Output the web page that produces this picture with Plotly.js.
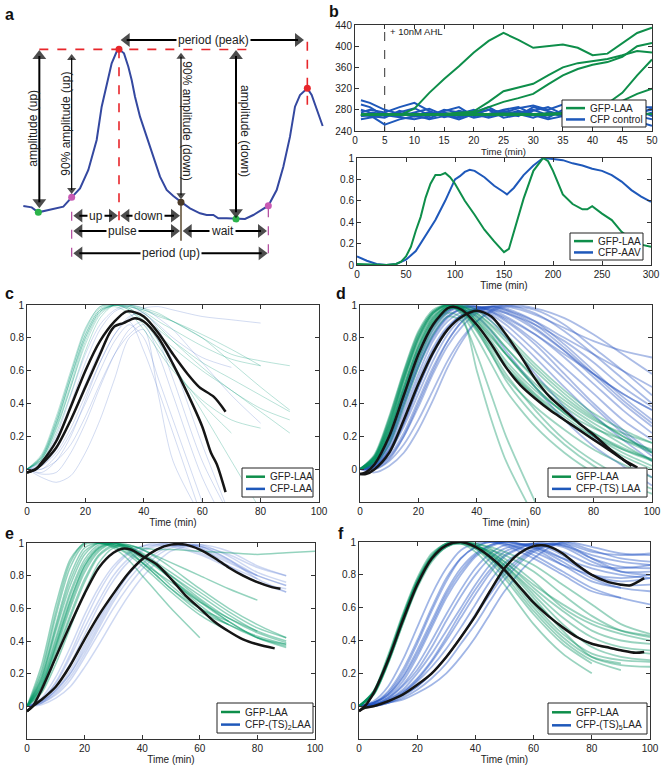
<!DOCTYPE html>
<html>
<head>
<meta charset="utf-8">
<script src="https://cdn.plot.ly/plotly-3.0.1.min.js"></script>
<style>
  body { margin: 0; background: #fff; }
  #fig { width: 667px; height: 769px; }
</style>
</head>
<body>
<div id="fig"></div>
<script>
// ---- panel a: schematic curve (drawn in its own 1020 x 840 sketch units)
var sketchX = [70,95,115,150,190,215,240,265,290,305,320,335,350,357,372,385,395,405,420,440,460,480,500,520,545,570,600,620,640,655,680,708,735,760,780,805,830,850,870,885,900,922,935,950,968];
var sketchY = [618,622,637,630,620,592,565,510,420,320,250,190,155,148,160,200,240,290,350,410,470,530,570,588,607,625,640,645,645,655,655,657,657,645,633,617,570,500,410,320,285,265,285,330,378];
var dotX = [115,708,215,805,357,922,543];
var dotY = [637,657,592,617,148,265,607];
var dotColor = ['#2bb34a','#2bb34a','#c85ab4','#c85ab4','#e8262b','#e8262b','#4a3a28'];
// double arrows [x0, y0, x1, y1, width]
var arrows = [
    [362,120,912,120,2], [118,150,118,625,2], [215,162,215,582,1.2],
    [543,158,543,598,1.2], [708,150,708,655,2], [220,647,354,647,2],
    [361,647,540,647,2], [220,693,540,693,2], [548,693,801,693,2],
    [220,760,803,760,2]
];
var arrowText = ['period (peak)','amplitude (up)','90% amplitude (up)','90% amplitude (down)','amplitude (down)','up','down','pulse','wait','period (up)'];
var arrowTextX = [640,100,197,562,737,287,446,366,666,512];
var arrowTextY = [120,385,372,362,392,647,647,693,693,760];
var arrowTextAngle = [0,-90,-90,90,90,0,0,0,0,0];
var redDash = [[118,148,760,148],[357,148,357,665],[922,125,922,325]];
var pinkDash = [[215,635,215,778],[805,625,805,778]];
var brownLine = [[543,610,543,722]];

// ---- panel b (top): raw traces after induction
var tInd = [1,2.5,5,7.5,10,12.5,15,17.5,20,22.5,25,27.5,30,32.5,35,37.5,40,42.5,45,47.5,50];
var indGfp = [
    [270,270,270,270,282,312,338,362,388,410,425,412,397,400,403,397,383,386,405,425,435],
    [270,270,270,270,270,270,272,274,277,295,315,322,329,345,360,368,372,376,383,391,388],
    [270,270,270,270,270,270,271,272,274,285,295,302,310,328,345,357,365,370,380,400,406],
    [270,270,270,270,270,270,270,270,270,270,270,270,271,272,274,276,282,292,312,345,375],
    [270,270,270,270,270,270,270,270,270,270,270,270,270,270,272,275,280,287,297,310,320],
    [272,272,271,272,272,271,272,273,272,272,273,272,272,273,272,272,273,272,272,273,272]
];
var indCfp = [
    [298,293,280,272,268,276,270,262,272,280,275,268,285,278,270,282,275,268,262,270,283],
    [290,285,268,275,283,270,278,285,268,272,280,285,272,265,280,275,285,278,270,265,275],
    [268,270,252,262,268,264,275,268,272,280,265,270,278,285,272,268,275,280,268,258,250],
    [275,280,275,285,293,278,266,272,280,268,275,283,288,280,290,285,272,278,285,280,268],
    [262,265,270,266,262,268,280,275,265,270,278,272,265,275,268,260,270,275,272,285,285],
    [280,275,272,268,275,282,270,265,275,285,270,278,270,262,268,280,278,265,270,275,280],
    [270,268,265,278,270,262,268,278,272,265,272,275,280,270,275,270,265,272,280,268,262]
];
var ahlTime = 5;

// ---- panel b (bottom): normalised single cell
var tGfpCell = [0,10,20,30,40,45,50,55,60,65,70,75,80,85,90,95,100,110,120,130,140,150,155,160,170,180,190,195,200,210,220,230,235,240,250,260,270,280,290,300];
var gfpCell = [0.01,0.005,0,0,0.01,0.03,0.08,0.17,0.32,0.45,0.63,0.76,0.84,0.84,0.86,0.82,0.76,0.6,0.47,0.33,0.22,0.12,0.15,0.3,0.62,0.88,1.0,0.97,0.88,0.66,0.57,0.52,0.52,0.55,0.48,0.42,0.31,0.24,0.19,0.17];
var tCfpCell = [0,10,20,30,40,50,60,70,80,90,100,105,110,115,120,130,140,150,153,160,170,180,190,200,210,220,230,240,250,260,270,280,290,300];
var cfpCell = [0.08,0.04,0.01,0,0.01,0.05,0.13,0.28,0.42,0.6,0.8,0.83,0.87,0.89,0.88,0.82,0.74,0.68,0.66,0.72,0.84,0.93,1.0,0.99,0.98,0.95,0.93,0.9,0.88,0.84,0.78,0.7,0.64,0.59];

// ---- panels c-f: thin single-cell pulses, sampled on one time grid
var tPulse = [0,5,10,15,20,25,30,35,40,45,50,60,70,80,90,100];

var cGfp = [
    [0,0.08,0.3,0.58,0.85,0.99,1.0,0.98,0.92,0.85,0.78,0.65,0.55,0.45,0.35],
    [0,0.07,0.28,0.55,0.8,0.96,1.0,0.99,0.96,0.9,0.85,0.75,0.67,0.63],
    [0,0.06,0.25,0.5,0.78,0.95,1.0,0.97,0.88,0.75,0.62,0.4,0.22],
    [0,0.08,0.3,0.58,0.84,0.98,1.0,1.0,0.97,0.93,0.9,0.82,0.73,0.63],
    [0,0.05,0.22,0.46,0.72,0.92,1.0,0.98,0.9,0.78,0.64,0.35,0.05,-0.25],
    [0,0.06,0.26,0.52,0.8,0.96,1.0,1.0,0.98,0.95,0.9,0.8,0.7,0.66,0.63],
    [0,0.07,0.27,0.55,0.82,0.97,0.99,0.95,0.85,0.72,0.6,0.42,0.3,0.25],
    [0,0.06,0.24,0.5,0.76,0.94,1.0,1.0,0.95,0.87,0.78,0.62,0.48,0.37,0.3],
    [0,0.09,0.32,0.6,0.86,0.99,1.0,0.97,0.9,0.82,0.74,0.6,0.48,0.35,0.22],
    [0,0.07,0.28,0.56,0.82,0.97,1.0,0.99,0.97,0.94,0.9,0.8,0.65,0.5,0.36]
];
var cCfp = [
    [0,-0.05,-0.08,-0.04,0.1,0.3,0.55,0.8,0.85,0.45,0.05,-0.3],
    [0,0.02,0.12,0.3,0.52,0.72,0.86,0.9,0.72,0.48,0.22,-0.3],
    [0,0.0,0.05,0.15,0.32,0.52,0.7,0.82,0.88,0.7,0.45,-0.05,-0.4],
    [0,0.04,0.18,0.4,0.65,0.85,0.96,0.99,0.95,0.88,0.8,0.68,0.62],
    [0,-0.02,0.05,0.2,0.42,0.65,0.82,0.92,0.98,0.99,0.97,0.93,0.91,0.89],
    [0,0.02,0.1,0.25,0.45,0.65,0.82,0.93,0.95,0.85,0.65,0.15,-0.3],
    [0,0.05,0.2,0.45,0.7,0.88,0.97,1.0,0.98,0.92,0.85,0.65,0.45,0.28],
    [0,-0.03,-0.02,0.1,0.28,0.5,0.7,0.85,0.9,0.78,0.55,0.05,-0.3],
    [0,0.0,0.08,0.22,0.4,0.6,0.78,0.88,0.8,0.55,0.3,-0.2]
];
var cMeanAT = [0,3,5,10,15,20,25,30,34,37,40,45,50,55,59,64,68];
var cMeanA = [-0.02,0,0.04,0.17,0.38,0.6,0.78,0.9,0.96,0.955,0.93,0.83,0.7,0.58,0.5,0.44,0.35];
var cMeanBT = [0,3,5,10,15,20,25,28,30,33,37,40,45,50,55,60,63,65,68];
var cMeanB = [-0.02,0,0.03,0.13,0.3,0.5,0.7,0.82,0.87,0.89,0.92,0.9,0.8,0.64,0.46,0.26,0.1,0.03,-0.14];

var dGfp = [
    [0,0.06,0.24,0.5,0.74,0.9,0.98,0.97,0.88,0.76,0.62,0.45,0.3,0.18,0.08,0.0],
    [0,0.08,0.3,0.58,0.82,0.96,1.0,0.95,0.84,0.7,0.56,0.38,0.24,0.12,0.03,-0.05],
    [0,0.05,0.2,0.45,0.7,0.88,0.97,0.99,0.94,0.85,0.74,0.55,0.4,0.28,0.18,0.1],
    [0,0.07,0.27,0.55,0.78,0.93,0.99,0.96,0.86,0.72,0.58,0.36,0.18,0.05,-0.05,-0.12],
    [0,0.06,0.25,0.52,0.76,0.92,0.99,0.98,0.92,0.82,0.7,0.5,0.34,0.22,0.12,0.05],
    [0,0.09,0.32,0.6,0.84,0.97,1.0,0.96,0.86,0.74,0.62,0.44,0.3,0.2,0.12,0.06],
    [0,0.05,0.22,0.48,0.72,0.9,0.98,0.99,0.95,0.88,0.8,0.62,0.46,0.32,0.2,0.1],
    [0,0.07,0.28,0.56,0.8,0.95,1.0,0.97,0.88,0.76,0.64,0.46,0.32,0.2,0.1,0.02],
    [0,0.04,0.18,0.42,0.66,0.85,0.95,0.92,0.6,0.3,0.05,-0.3],
    [0,0.06,0.24,0.5,0.75,0.92,0.99,0.99,0.93,0.84,0.74,0.56,0.42,0.3,0.22,0.16],
    [0,0.08,0.29,0.57,0.81,0.95,1.0,0.96,0.85,0.7,0.54,0.32,0.15,0.02,-0.08,-0.15],
    [0,0.05,0.21,0.46,0.71,0.89,0.98,0.98,0.9,0.78,0.66,0.48,0.35,0.25,0.18,0.12],
    [0,0.03,0.15,0.38,0.62,0.82,0.93,0.9,0.7,0.45,0.2,-0.2],
    [0,0.07,0.26,0.54,0.79,0.94,1.0,0.98,0.9,0.8,0.7,0.52,0.38,0.26,0.15,0.05],
    [0,0.07,0.27,0.55,0.8,0.95,1.0,0.98,0.91,0.81,0.7,0.5,0.34,0.22,0.13,0.06],
    [0,0.06,0.23,0.49,0.74,0.91,0.99,0.99,0.95,0.87,0.78,0.6,0.44,0.31,0.2,0.11],
    [0,0.08,0.31,0.59,0.83,0.96,1.0,0.94,0.8,0.64,0.48,0.26,0.1,-0.02,-0.1],
    [0,0.05,0.2,0.44,0.68,0.87,0.97,1.0,0.97,0.9,0.82,0.64,0.48,0.34,0.24,0.16]
];
var dCfp = [
    [0,0.02,0.12,0.32,0.55,0.74,0.87,0.94,0.97,0.95,0.9,0.76,0.58,0.4,0.24,0.1],
    [0,0.04,0.2,0.45,0.7,0.87,0.96,0.99,0.98,0.94,0.88,0.72,0.55,0.38,0.22,0.08],
    [0,0.0,0.06,0.2,0.4,0.6,0.78,0.9,0.97,0.99,0.98,0.9,0.76,0.6,0.44,0.3],
    [0,0.03,0.15,0.38,0.62,0.8,0.92,0.98,0.99,0.97,0.93,0.82,0.68,0.52,0.36,0.22],
    [0,0.01,0.1,0.28,0.5,0.7,0.85,0.94,0.98,0.99,0.97,0.9,0.8,0.7,0.6,0.5],
    [0,0.02,0.12,0.3,0.52,0.72,0.86,0.93,0.96,0.9,0.8,0.58,0.38,0.2,0.06,-0.05],
    [0,0.05,0.22,0.48,0.72,0.88,0.97,1.0,0.99,0.96,0.92,0.82,0.7,0.58,0.46,0.36],
    [0,0.0,0.05,0.15,0.3,0.48,0.66,0.8,0.9,0.96,0.99,0.97,0.88,0.74,0.6,0.45],
    [0,0.02,0.1,0.26,0.46,0.66,0.82,0.92,0.97,0.99,0.99,0.94,0.86,0.78,0.72,0.68],
    [0,0.03,0.16,0.4,0.64,0.82,0.93,0.97,0.93,0.84,0.72,0.5,0.3,0.14,0.02,-0.1],
    [0,0.01,0.08,0.22,0.42,0.62,0.78,0.9,0.96,0.98,0.96,0.86,0.72,0.56,0.4,0.26],
    [0,0.04,0.18,0.42,0.66,0.84,0.95,0.99,0.99,0.96,0.91,0.78,0.62,0.46,0.3,0.18],
    [0,-0.02,0.02,0.1,0.24,0.42,0.62,0.78,0.9,0.97,1.0,0.98,0.92,0.82,0.7,0.58],
    [0,0.03,0.14,0.35,0.58,0.78,0.9,0.96,0.98,0.97,0.95,0.88,0.78,0.65,0.5,0.38],
    [0,0.02,0.11,0.28,0.5,0.7,0.85,0.94,0.98,0.99,0.97,0.88,0.74,0.58,0.42,0.28],
    [0,0.03,0.17,0.4,0.63,0.81,0.93,0.98,0.99,0.98,0.95,0.85,0.72,0.58,0.46,0.36],
    [0,0.01,0.07,0.2,0.38,0.58,0.75,0.87,0.95,0.99,1.0,0.95,0.84,0.7,0.55,0.4],
    [0,0.04,0.19,0.44,0.68,0.86,0.96,0.99,0.97,0.92,0.85,0.68,0.5,0.33,0.18,0.05]
];
var dMeanAT = [0,2,5,10,15,20,25,30,32,35,40,45,50,55,60,65,70,75,80,85,90,95];
var dMeanA = [-0.03,-0.02,0.03,0.2,0.45,0.7,0.88,0.98,0.99,0.97,0.88,0.76,0.62,0.51,0.43,0.36,0.3,0.24,0.18,0.12,0.06,0.01];
var dMeanBT = [0,2,5,10,15,20,25,30,35,40,45,50,55,60,65,70,75,80,85,90,93];
var dMeanB = [-0.03,-0.03,0.0,0.1,0.3,0.52,0.71,0.85,0.93,0.965,0.93,0.82,0.69,0.55,0.44,0.36,0.28,0.21,0.13,0.06,0.02];

var eGfp = [
    [0,0.15,0.42,0.7,0.9,0.99,1.0,0.97,0.92,0.86,0.78,0.64,0.52,0.42,0.38],
    [0,0.2,0.55,0.85,0.99,1.0,0.98,0.93,0.86,0.78,0.7,0.56,0.46],
    [0,0.1,0.32,0.56,0.78,0.93,0.99,0.98,0.93,0.87,0.8,0.68,0.56,0.46,0.4],
    [0,0.12,0.36,0.62,0.84,0.96,1.0,0.98,0.94,0.88,0.82,0.7,0.58,0.48,0.42],
    [0,0.25,0.62,0.9,1.0,1.0,0.97,0.9,0.8,0.7,0.6,0.42],
    [0,0.08,0.26,0.48,0.7,0.88,0.97,0.99,0.96,0.91,0.85,0.72,0.6,0.5,0.42],
    [0,0.14,0.4,0.68,0.88,0.98,1.0,0.96,0.88,0.8,0.72,0.6,0.52],
    [0,0.11,0.34,0.6,0.82,0.95,1.0,0.99,0.96,0.92,0.88,0.8,0.72,0.65],
    [0,0.18,0.5,0.8,0.97,1.0,0.99,0.98,0.97,0.96,0.96,0.95,0.94,0.93,0.94,0.95],
    [0,0.09,0.3,0.54,0.76,0.92,0.98,0.97,0.92,0.86,0.78,0.65,0.52,0.42,0.36],
    [0,0.13,0.38,0.65,0.86,0.97,1.0,0.97,0.9,0.82,0.74,0.6,0.5,0.43,0.38],
    [0,0.16,0.46,0.74,0.93,1.0,0.99,0.95,0.88,0.8,0.72,0.58,0.5],
    [0,0.22,0.58,0.88,1.0,1.0,0.98,0.94,0.88,0.82,0.76,0.64,0.54,0.46],
    [0,0.12,0.37,0.64,0.86,0.97,1.0,0.98,0.93,0.87,0.8,0.66,0.54,0.45,0.39],
    [0,0.17,0.48,0.77,0.95,1.0,0.99,0.96,0.91,0.85,0.78,0.62,0.5,0.42,0.37]
];
var eCfp = [
    [0,0.03,0.1,0.22,0.38,0.54,0.69,0.81,0.9,0.96,0.99,0.97,0.86,0.76,0.72],
    [0,0.04,0.14,0.3,0.48,0.65,0.8,0.9,0.96,0.99,1.0,0.98,0.9,0.8],
    [0,0.02,0.07,0.16,0.3,0.45,0.6,0.73,0.84,0.92,0.97,0.99,0.92,0.82,0.76],
    [0,0.05,0.18,0.36,0.56,0.73,0.86,0.94,0.98,0.99,0.98,0.93,0.85,0.76,0.7],
    [0,0.02,0.08,0.18,0.32,0.48,0.64,0.77,0.87,0.94,0.98,0.98,0.9,0.78,0.7],
    [0,0.03,0.12,0.26,0.44,0.62,0.77,0.88,0.95,0.98,0.99,0.96,0.88,0.8,0.74],
    [0,0.01,0.05,0.12,0.24,0.38,0.53,0.67,0.79,0.88,0.95,0.99,0.95,0.86,0.8],
    [0,0.04,0.15,0.32,0.52,0.7,0.84,0.93,0.98,1.0,0.99,0.94,0.86,0.78],
    [0,0.02,0.1,0.2,0.36,0.52,0.68,0.8,0.9,0.96,0.99,0.98,0.93,0.85,0.8],
    [0,0.03,0.09,0.2,0.34,0.5,0.66,0.8,0.9,0.96,0.99,0.97,0.89,0.8,0.74]
];
var eMeanAT = [0,2,5,10,15,20,25,30,33,36,40,45,50,55,60,65,70,75,80,86];
var eMeanA = [-0.03,0,0.1,0.3,0.5,0.69,0.85,0.94,0.965,0.96,0.92,0.87,0.78,0.68,0.6,0.52,0.46,0.41,0.38,0.355];
var eMeanBT = [0,2,5,10,15,20,25,30,35,40,45,50,55,60,65,70,75,80,85,88];
var eMeanB = [-0.03,0,0.04,0.12,0.25,0.41,0.56,0.69,0.81,0.9,0.96,0.99,0.99,0.96,0.91,0.85,0.8,0.76,0.73,0.72];

var fGfp = [
    [0,0.08,0.28,0.52,0.74,0.9,0.98,1.0,0.97,0.91,0.83,0.64,0.48,0.38,0.34,0.32],
    [0,0.09,0.3,0.55,0.77,0.92,0.99,1.0,0.98,0.94,0.88,0.72,0.58,0.46,0.4,0.38],
    [0,0.07,0.26,0.5,0.72,0.88,0.97,1.0,0.98,0.93,0.86,0.68,0.5,0.36,0.3,0.28],
    [0,0.08,0.29,0.54,0.76,0.91,0.99,1.0,0.96,0.88,0.78,0.56,0.38,0.26],
    [0,0.09,0.31,0.56,0.78,0.93,0.99,0.99,0.97,0.95,0.92,0.82,0.68,0.55,0.46,0.42],
    [0,0.07,0.27,0.51,0.73,0.89,0.97,0.99,0.96,0.9,0.82,0.6,0.42,0.3,0.26],
    [0,0.08,0.28,0.53,0.75,0.91,0.98,1.0,0.99,0.96,0.9,0.76,0.6,0.5,0.44,0.4],
    [0,0.08,0.27,0.52,0.74,0.9,0.98,0.99,0.94,0.85,0.74,0.5,0.32,0.2],
    [0,0.09,0.29,0.54,0.76,0.91,0.98,1.0,0.98,0.93,0.86,0.7,0.54,0.42,0.36,0.34],
    [0,0.07,0.26,0.5,0.73,0.89,0.97,1.0,0.99,0.97,0.94,0.86,0.74,0.62,0.5,0.44],
    [0,0.08,0.28,0.53,0.75,0.9,0.98,1.0,0.97,0.92,0.85,0.66,0.46,0.3,0.25,0.24],
    [0,0.08,0.28,0.53,0.75,0.9,0.98,1.0,0.98,0.94,0.88,0.74,0.62,0.52,0.46,0.43],
    [0,0.08,0.27,0.52,0.74,0.9,0.98,1.0,0.97,0.91,0.84,0.62,0.44,0.32,0.28,0.27],
    [0,0.09,0.29,0.54,0.76,0.91,0.99,1.0,0.97,0.9,0.8,0.58,0.4,0.28,0.22]
];
var fCfp = [
    [0,0.02,0.08,0.2,0.38,0.58,0.76,0.9,0.97,1.0,0.99,0.92,0.82,0.72,0.66,0.62],
    [0,0.01,0.04,0.1,0.2,0.32,0.46,0.6,0.74,0.86,0.94,0.99,0.92,0.8,0.74,0.74],
    [0,0.0,0.02,0.05,0.1,0.17,0.26,0.38,0.5,0.64,0.77,0.94,0.99,0.9,0.82,0.8],
    [0,0.03,0.12,0.28,0.48,0.68,0.84,0.95,0.99,1.0,0.98,0.9,0.8,0.7,0.66],
    [0,0.01,0.05,0.13,0.25,0.4,0.56,0.71,0.84,0.93,0.98,0.98,0.9,0.8,0.76,0.78],
    [0,0.0,0.03,0.08,0.15,0.24,0.35,0.48,0.62,0.76,0.87,0.98,0.98,0.9,0.85,0.84],
    [0,0.02,0.06,0.15,0.3,0.48,0.66,0.8,0.91,0.97,1.0,0.97,0.88,0.78,0.72,0.7],
    [0,0.01,0.04,0.09,0.17,0.28,0.42,0.57,0.71,0.83,0.92,0.99,0.97,0.88,0.82,0.82],
    [0,0.01,0.03,0.07,0.12,0.2,0.3,0.42,0.56,0.7,0.82,0.96,1.0,0.95,0.9,0.88],
    [0,0.02,0.07,0.18,0.34,0.52,0.7,0.84,0.93,0.98,1.0,0.96,0.86,0.76,0.72],
    [0,0.01,0.05,0.12,0.22,0.36,0.52,0.67,0.8,0.9,0.96,0.99,0.94,0.86,0.84,0.86],
    [0,0.0,0.02,0.06,0.12,0.2,0.3,0.42,0.55,0.68,0.8,0.95,0.99,0.94,0.92,0.93],
    [0,0.02,0.07,0.17,0.32,0.5,0.68,0.82,0.92,0.98,1.0,0.97,0.9,0.84,0.8,0.78],
    [0,0.01,0.03,0.08,0.16,0.27,0.4,0.54,0.68,0.81,0.91,0.99,0.98,0.92,0.88,0.86],
    [0,0.02,0.09,0.22,0.4,0.6,0.78,0.9,0.97,1.0,0.99,0.94,0.86,0.8,0.78,0.8],
    [0,0.0,0.02,0.04,0.08,0.13,0.2,0.3,0.42,0.56,0.7,0.9,1.0,0.97,0.93,0.92]
];
var fMeanAT = [0,2,5,10,15,20,25,30,35,40,45,50,55,60,65,70,75,80,85,90,95,98];
var fMeanA = [-0.03,0,0.08,0.28,0.52,0.74,0.9,0.98,1.0,0.97,0.91,0.83,0.73,0.63,0.55,0.48,0.42,0.38,0.36,0.34,0.325,0.33];
var fMeanBT = [0,2,5,10,15,20,25,30,35,40,45,50,55,60,63,65,70,75,80,85,90,93,95,98];
var fMeanB = [-0.03,-0.01,0.0,0.03,0.07,0.13,0.2,0.3,0.42,0.55,0.7,0.84,0.93,0.975,0.98,0.975,0.93,0.86,0.8,0.76,0.74,0.735,0.75,0.78];

var legendNames = [
    ['GFP-LAA', 'CFP control'],
    ['GFP-LAA', 'CFP-AAV'],
    ['GFP-LAA', 'CFP-LAA'],
    ['GFP-LAA', 'CFP-(TS) LAA'],
    ['GFP-LAA', 'CFP-(TS)<sub>2</sub>LAA'],
    ['GFP-LAA', 'CFP-(TS)<sub>5</sub>LAA']
];

var GREEN = 'rgb(14,142,74)';
var BLUE = 'rgb(30,88,186)';
var FONT = 'Liberation Sans, Arial, sans-serif';
var W = 667, H = 769;

var traces = [];

function line(x, y, xa, ya, color, width, shape) {
    return {
        x: x, y: y, xaxis: xa, yaxis: ya, type: 'scatter', mode: 'lines',
        line: {color: color, width: width, shape: shape || 'linear', smoothing: 0.8},
        hoverinfo: 'skip', showlegend: false
    };
}

function addThin(rows, color, width, xa, ya) {
    rows.forEach(function(r) {
        traces.push(line(tPulse.slice(0, r.length), r, xa, ya, color, width, 'spline'));
    });
}

// panel a
traces.push(line(sketchX, sketchY, 'x', 'y', 'rgb(52,72,160)', 2));
traces.push({x: dotX, y: dotY, xaxis: 'x', yaxis: 'y', type: 'scatter', mode: 'markers',
    marker: {color: dotColor, size: 7}, hoverinfo: 'skip', showlegend: false});

// arrow heads as triangle markers at both ends of each arrow
var headX = [], headY = [], headSym = [], headSize = [];
arrows.forEach(function(a) {
    var s = a[4] > 1.5 ? 12 : 8;
    var off = s * 0.5 * 3;
    if (a[1] === a[3]) {
        headX.push(a[0] + off, a[2] - off); headY.push(a[1], a[3]);
        headSym.push('triangle-left', 'triangle-right');
    } else {
        headX.push(a[0], a[2]); headY.push(a[1] + off, a[3] - off);
        headSym.push('triangle-up', 'triangle-down');
    }
    headSize.push(s, s);
});
traces.push({x: headX, y: headY, xaxis: 'x', yaxis: 'y', type: 'scatter', mode: 'markers',
    marker: {color: '#000', size: headSize, symbol: headSym, line: {width: 0}},
    hoverinfo: 'skip', showlegend: false});

// panel b top
indCfp.forEach(function(r) { traces.push(line(tInd, r, 'x2', 'y2', BLUE, 2)); });
indGfp.slice().reverse().forEach(function(r) { traces.push(line(tInd, r, 'x2', 'y2', GREEN, 2)); });

// panel b bottom
traces.push(line(tCfpCell, cfpCell, 'x3', 'y3', BLUE, 2));
traces.push(line(tGfpCell, gfpCell, 'x3', 'y3', GREEN, 2));

// panels c-f: [gfp, cfp, meanA t, meanA, meanB t, meanB, xaxis, yaxis, green rgba, blue rgba, width]
var pulsePanels = [
    [cGfp, cCfp, cMeanAT, cMeanA, cMeanBT, cMeanB, 'x4', 'y4', 'rgba(0,150,115,0.28)', 'rgba(50,90,190,0.22)', 1],
    [dGfp, dCfp, dMeanAT, dMeanA, dMeanBT, dMeanB, 'x5', 'y5', 'rgba(0,145,95,0.38)', 'rgba(35,80,190,0.38)', 1.8],
    [eGfp, eCfp, eMeanAT, eMeanA, eMeanBT, eMeanB, 'x6', 'y6', 'rgba(0,150,100,0.42)', 'rgba(50,90,200,0.24)', 1.5],
    [fGfp, fCfp, fMeanAT, fMeanA, fMeanBT, fMeanB, 'x7', 'y7', 'rgba(0,145,95,0.4)', 'rgba(30,80,195,0.42)', 1.8]
];
pulsePanels.forEach(function(p) {
    addThin(p[1], p[9], p[10], p[6], p[7]);
    addThin(p[0], p[8], p[10], p[6], p[7]);
    traces.push(line(p[2], p[3], p[6], p[7], '#151515', 2.5, 'spline'));
    traces.push(line(p[4], p[5], p[6], p[7], '#151515', 2.5, 'spline'));
});

// axes ----------------------------------------------------------
function dx(a, b) { return [a / W, b / W]; }
function dy(top, bottom) { return [1 - bottom / H, 1 - top / H]; }

function frameAxis(dom, range, ticks, labels, anchor, title) {
    var ax = {
        domain: dom, range: range, anchor: anchor, tickvals: ticks, ticktext: labels,
        ticks: 'inside', ticklen: 4, tickwidth: 1, tickcolor: '#333',
        showline: true, linecolor: '#333', linewidth: 1, mirror: 'ticks',
        showgrid: false, zeroline: false, fixedrange: true,
        tickfont: {size: 10, color: '#222', family: FONT}
    };
    if (title) ax.title = {text: title, font: {size: 10, color: '#222', family: FONT}, standoff: 1};
    return ax;
}

var pulseY = [0, 0.2, 0.4, 0.6, 0.8, 1];
var pulseYText = ['0', '0.2', '0.4', '0.6', '0.8', '1'];
var pulseX = [0, 20, 40, 60, 80, 100];

var layout = {
    width: W, height: H,
    margin: {l: 0, r: 0, t: 0, b: 0},
    paper_bgcolor: '#fff', plot_bgcolor: 'rgba(0,0,0,0)',
    font: {family: FONT, color: '#222'},
    showlegend: false,
    xaxis: {domain: dx(0, 340), range: [0, 1020], visible: false, anchor: 'y', fixedrange: true},
    yaxis: {domain: dy(0, 280), range: [840, 0], visible: false, anchor: 'x', fixedrange: true},
    xaxis2: frameAxis(dx(355, 652), [0, 50], [0,5,10,15,20,25,30,35,40,45,50], null, 'y2'),
    yaxis2: frameAxis(dy(25, 131), [240, 440], [240,280,320,360,400,440], null, 'x2'),
    xaxis3: frameAxis(dx(357, 651), [0, 300], [0,50,100,150,200,250,300], null, 'y3', 'Time (min)'),
    yaxis3: frameAxis(dy(158, 265), [0, 1], pulseY, pulseYText, 'x3'),
    xaxis4: frameAxis(dx(27, 319), [0, 100], pulseX, null, 'y4', 'Time (min)'),
    yaxis4: frameAxis(dy(305, 502), [-0.2, 1], pulseY, pulseYText, 'x4'),
    xaxis5: frameAxis(dx(360, 652), [0, 100], pulseX, null, 'y5', 'Time (min)'),
    yaxis5: frameAxis(dy(305, 502), [-0.2, 1], pulseY, pulseYText, 'x5'),
    xaxis6: frameAxis(dx(27, 315), [0, 100], pulseX, null, 'y6', 'Time (min)'),
    yaxis6: frameAxis(dy(543, 739), [-0.2, 1], pulseY, pulseYText, 'x6'),
    xaxis7: frameAxis(dx(359, 650), [0, 100], pulseX, null, 'y7', 'Time (min)'),
    yaxis7: frameAxis(dy(542, 739), [-0.2, 1], pulseY, pulseYText, 'x7'),
    shapes: [],
    annotations: []
};

// the upper b panel has a tight gap, so its x title sits just under the tick labels
layout.annotations.push({xref: 'paper', yref: 'paper', x: 503.5 / W, y: 1 - 152 / H, text: 'Time (min)',
    showarrow: false, xanchor: 'center', yanchor: 'middle', font: {size: 9.5, family: FONT, color: '#222'}});

// compact boxed legends, MATLAB style: [left, top, right, bottom] in px
var legendBox = [[562, 100, 646, 127], [570, 233, 643, 260], [242, 468, 313, 497],
                 [548, 468, 647, 497], [217, 703, 313, 733], [548, 703, 647, 734]];
legendBox.forEach(function(b, i) {
    layout.shapes.push({type: 'rect', xref: 'paper', yref: 'paper',
        x0: b[0] / W, x1: b[2] / W, y0: 1 - b[3] / H, y1: 1 - b[1] / H,
        fillcolor: '#fff', line: {color: '#222', width: 1}});
    [GREEN, BLUE].forEach(function(c, k) {
        var yy = b[1] + (b[3] - b[1]) * (k === 0 ? 0.3 : 0.72);
        layout.shapes.push({type: 'line', xref: 'paper', yref: 'paper',
            x0: (b[0] + 4) / W, x1: (b[0] + 23) / W, y0: 1 - yy / H, y1: 1 - yy / H,
            line: {color: c, width: 2.5}});
        layout.annotations.push({xref: 'paper', yref: 'paper', x: (b[0] + 26) / W, y: 1 - yy / H,
            xanchor: 'left', yanchor: 'middle', text: legendNames[i][k], showarrow: false,
            font: {size: 10, family: FONT, color: '#222'}});
    });
});

// sketch decorations
redDash.forEach(function(s) {
    layout.shapes.push({type: 'line', xref: 'x', yref: 'y', x0: s[0], y0: s[1], x1: s[2], y1: s[3],
        line: {color: '#e8262b', width: 1.6, dash: 'dash'}, layer: 'below'});
});
pinkDash.forEach(function(s) {
    layout.shapes.push({type: 'line', xref: 'x', yref: 'y', x0: s[0], y0: s[1], x1: s[2], y1: s[3],
        line: {color: '#b0489c', width: 1.2, dash: 'dash'}, layer: 'below'});
});
brownLine.forEach(function(s) {
    layout.shapes.push({type: 'line', xref: 'x', yref: 'y', x0: s[0], y0: s[1], x1: s[2], y1: s[3],
        line: {color: '#5a4a30', width: 1.5}, layer: 'below'});
});
arrows.forEach(function(a) {
    var off = (a[4] > 1.5 ? 12 : 8) * 0.5 * 3;
    var hz = a[1] === a[3];
    layout.shapes.push({type: 'line', xref: 'x', yref: 'y',
        x0: hz ? a[0] + off : a[0], x1: hz ? a[2] - off : a[2],
        y0: hz ? a[1] : a[1] + off, y1: hz ? a[3] : a[3] - off,
        line: {color: '#000', width: a[4]}});
});
arrowText.forEach(function(t, i) {
    var flat = arrowTextAngle[i] === 0;
    layout.annotations.push({xref: 'x', yref: 'y', x: arrowTextX[i], y: arrowTextY[i], text: t,
        textangle: arrowTextAngle[i], showarrow: false, bgcolor: flat ? '#fff' : 'rgba(0,0,0,0)',
        borderpad: 1, font: {size: 12, family: FONT, color: '#222'}});
});

// induction marker in b
layout.shapes.push({type: 'line', xref: 'x2', yref: 'y2', x0: ahlTime, x1: ahlTime, y0: 240, y1: 434,
    line: {color: '#333', width: 1, dash: 'dash'}, layer: 'below'});
layout.annotations.push({xref: 'x2', yref: 'y2', x: ahlTime + 0.6, y: 428, text: '+ 10nM AHL',
    xanchor: 'left', showarrow: false, font: {size: 9.5, family: FONT, color: '#222'}});

// panel letters
var letters = [['a', 9, 14], ['b', 334, 12], ['c', 9, 293], ['d', 341, 293], ['e', 9, 533], ['f', 341, 533]];
letters.forEach(function(l) {
    layout.annotations.push({xref: 'paper', yref: 'paper', x: l[1] / W, y: 1 - l[2] / H, text: '<b>' + l[0] + '</b>',
        showarrow: false, xanchor: 'center', yanchor: 'middle', font: {size: 16, family: FONT, color: '#111'}});
});

Plotly.newPlot('fig', traces, layout, {displayModeBar: false, staticPlot: true});
</script>
</body>
</html>
